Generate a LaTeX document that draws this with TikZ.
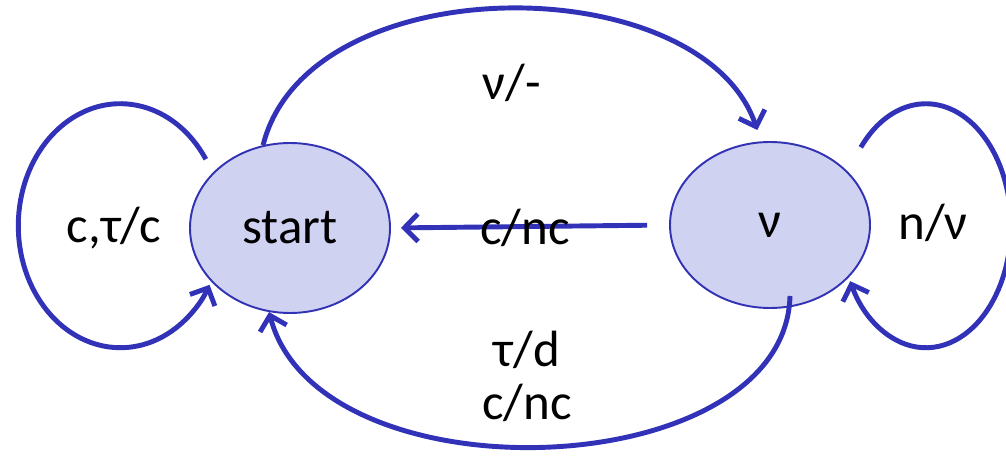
\documentclass[tikz,border=0pt]{standalone}
\usepackage{fontspec}
\setmainfont{Carlito}
\usetikzlibrary{shapes.geometric,arrows.meta}
\definecolor{edgeblue}{RGB}{50,50,185}
\definecolor{statefill}{RGB}{208,210,242}
\definecolor{stateline}{RGB}{50,50,180}

\begin{document}
\begin{tikzpicture}[every node/.style={font=\fontsize{29}{30}\selectfont},
    state/.style={draw=stateline, line width=1.1pt, fill=statefill, ellipse, minimum width=4cm, minimum height=3.4cm},
    trans/.style={draw=edgeblue, line width=2.8pt, -{Straight Barb[length=0.27cm, width=0.55cm]}}]
  \useasboundingbox (0,0) rectangle (20.12,9.18);
  \node[state] (start) at (5.8,4.62) {start};
  \node[state, minimum height=3.32cm] (nu) at (15.4,4.68) {ν};
  % self loops
  \draw[trans] ([xshift=-0.22cm, yshift=0.19cm]start.141) arc[start angle=33, end angle=331, x radius=2.04cm, y radius=2.44cm];
  \draw[trans] ([xshift=0.42cm, yshift=0.34cm]nu.41) arc[start angle=140, end angle=-153, x radius=1.7cm, y radius=2.44cm];
  % between the states
  \draw[trans, shorten >=0.24cm] (start.108) .. controls +(0.9,3.6) and +(-1.2,3.5) .. (nu.96);
  \draw[trans, shorten <=0.44cm, shorten >=0.2cm] (nu.west) -- (start.east);
  \draw[trans] ([xshift=0.4cm, yshift=0.26cm]nu.south) .. controls +(-0.1,-3.8) and +(1.0,-3.8) .. (start.-104);
  % labels
  \node (l1) at (2.28,4.62) {c,τ/c};
  \node (l2) at (10.5,4.62) {c/nc};
  \node (l3) at (18.66,4.72) {n/ν};
  \node (l4) at (10.24,7.52) {ν/-};
  \node[align=center] (l5) at (10.54,1.65) {τ/d\\c/nc};
\end{tikzpicture}
\end{document}
